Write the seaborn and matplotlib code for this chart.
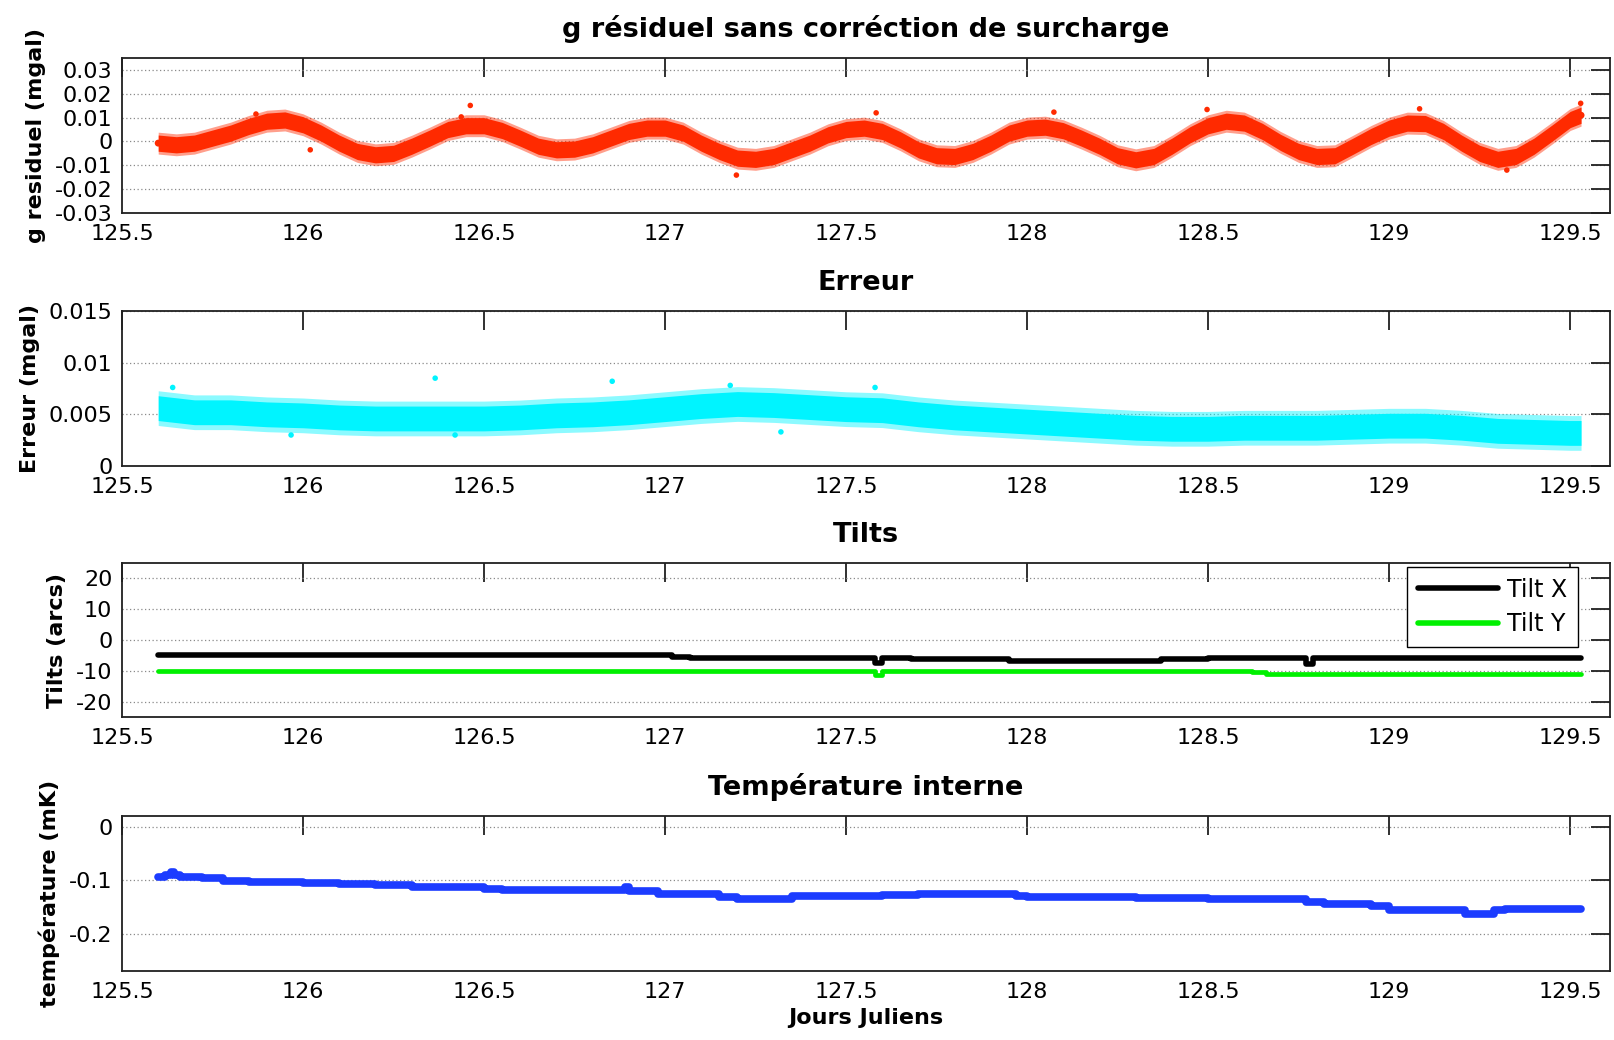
import matplotlib
matplotlib.use("Agg")
import matplotlib.pyplot as plt
import numpy as np
import pandas as pd
import seaborn as sns

# ---------------- data ----------------
# Panel 1: g residuel (mgal) - centre of the scattered band
t_g = [125.60, 125.65, 125.70, 125.75, 125.80, 125.85, 125.90, 125.95, 126.00, 126.05,
       126.10, 126.15, 126.20, 126.25, 126.30, 126.35, 126.40, 126.45, 126.50, 126.55,
       126.60, 126.65, 126.70, 126.75, 126.80, 126.85, 126.90, 126.95, 127.00, 127.05,
       127.10, 127.15, 127.20, 127.25, 127.30, 127.35, 127.40, 127.45, 127.50, 127.55,
       127.60, 127.65, 127.70, 127.75, 127.80, 127.85, 127.90, 127.95, 128.00, 128.05,
       128.10, 128.15, 128.20, 128.25, 128.30, 128.35, 128.40, 128.45, 128.50, 128.55,
       128.60, 128.65, 128.70, 128.75, 128.80, 128.85, 128.90, 128.95, 129.00, 129.05,
       129.10, 129.15, 129.20, 129.25, 129.30, 129.35, 129.40, 129.45, 129.50, 129.53]
g_res = [-0.0007, -0.0014, -0.0007, 0.0014, 0.0035, 0.0063, 0.0085, 0.0090, 0.0070, 0.0035,
         -0.0007, -0.0042, -0.0056, -0.0050, -0.0020, 0.0014, 0.0050, 0.0066, 0.0066, 0.0046,
         0.0014, -0.0020, -0.0035, -0.0032, -0.0014, 0.0014, 0.0042, 0.0056, 0.0056, 0.0035,
         -0.0007, -0.0042, -0.0070, -0.0075, -0.0063, -0.0035, -0.0007, 0.0028, 0.0050, 0.0056,
         0.0042, 0.0007, -0.0035, -0.0060, -0.0063, -0.0042, -0.0007, 0.0035, 0.0056, 0.0060,
         0.0045, 0.0014, -0.0020, -0.0060, -0.0077, -0.0063, -0.0020, 0.0028, 0.0066, 0.0085,
         0.0077, 0.0042, -0.0004, -0.0042, -0.0063, -0.0060, -0.0020, 0.0021, 0.0056, 0.0077,
         0.0075, 0.0042, -0.0007, -0.0050, -0.0075, -0.0063, -0.0020, 0.0035, 0.0092, 0.0110]
g_spread = 0.0034          # half width of the dense band
g_out_t = [126.437, 126.462, 127.197, 127.583, 128.074, 128.497, 129.084, 129.529, 129.325, 125.87, 126.02]
g_out_v = [0.0103, 0.0151, -0.0141, 0.0120, 0.0123, 0.0134, 0.0137, 0.0160, -0.0120, 0.0115, -0.0035]

# Panel 2: Erreur (mgal)
t_e = [125.60, 125.70, 125.80, 125.90, 126.00, 126.10, 126.20, 126.30, 126.40, 126.50,
       126.60, 126.70, 126.80, 126.90, 127.00, 127.10, 127.20, 127.30, 127.40, 127.50,
       127.60, 127.70, 127.80, 127.90, 128.00, 128.10, 128.20, 128.30, 128.40, 128.50,
       128.60, 128.70, 128.80, 128.90, 129.00, 129.10, 129.20, 129.30, 129.40, 129.50, 129.53]
err = [0.0056, 0.0052, 0.0052, 0.0050, 0.0049, 0.0047, 0.0046, 0.0046, 0.0046, 0.0046,
       0.0047, 0.0049, 0.0050, 0.0052, 0.0055, 0.0058, 0.0060, 0.0059, 0.0057, 0.0055,
       0.0054, 0.0050, 0.0047, 0.0045, 0.0043, 0.0041, 0.0039, 0.0037, 0.0036, 0.0036,
       0.0037, 0.0037, 0.0037, 0.0038, 0.0039, 0.0039, 0.0037, 0.0034, 0.0033, 0.0032, 0.0032]
e_spread = 0.0012
e_out_t = [126.365, 126.854, 125.967, 127.32, 127.58, 125.64, 126.42, 127.18]
e_out_v = [0.0085, 0.0082, 0.0030, 0.0033, 0.0076, 0.0076, 0.0030, 0.0078]

# Panel 3: Tilts (arcs)
t_tx = [125.60, 127.02, 127.07, 127.58, 127.60, 127.68, 127.95, 128.37, 128.50, 128.77, 128.79, 129.53]
tilt_x = [-5.0, -5.4, -5.8, -7.6, -5.8, -6.2, -6.7, -6.2, -5.8, -7.8, -5.8, -5.7]
t_ty = [125.60, 127.58, 127.60, 128.62, 128.66, 129.53]
tilt_y = [-10.0, -11.5, -10.0, -10.4, -10.9, -10.9]

# Panel 4: temperature (mK)
t_tp = [125.60, 125.62, 125.635, 125.645, 125.66, 125.72, 125.78, 125.85, 126.00, 126.10,
        126.20, 126.30, 126.40, 126.50, 126.55, 126.89, 126.90, 126.98, 127.15, 127.20,
        127.35, 127.45, 127.60, 127.70, 127.97, 128.00, 128.30, 128.40, 128.50, 128.77,
        128.82, 128.95, 129.00, 129.21, 129.29, 129.32, 129.53]
temp = [-0.094, -0.090, -0.084, -0.090, -0.094, -0.096, -0.101, -0.104, -0.105, -0.107,
        -0.110, -0.112, -0.113, -0.116, -0.119, -0.113, -0.121, -0.126, -0.131, -0.135,
        -0.130, -0.129, -0.127, -0.125, -0.129, -0.132, -0.133, -0.134, -0.135, -0.141,
        -0.145, -0.149, -0.156, -0.163, -0.156, -0.154, -0.154]

x_ticks = [125.5, 126, 126.5, 127, 127.5, 128, 128.5, 129, 129.5]
x_ticklabels = ["125.5", "126", "126.5", "127", "127.5", "128", "128.5", "129", "129.5"]

titles = ["g résiduel sans corréction de surcharge", "Erreur", "Tilts", "Température interne"]
ylabels = ["g residuel (mgal)", "Erreur (mgal)", "Tilts (arcs)", "température (mK)"]

y1_ticks = [-0.03, -0.02, -0.01, 0, 0.01, 0.02, 0.03]
y1_labels = ["-0.03", "-0.02", "-0.01", "0", "0.01", "0.02", "0.03"]
y2_ticks = [0, 0.005, 0.01, 0.015]
y2_labels = ["0", "0.005", "0.01", "0.015"]
y3_ticks = [-20, -10, 0, 10, 20]
y3_labels = ["-20", "-10", "0", "10", "20"]
y4_ticks = [-0.2, -0.1, 0]
y4_labels = ["-0.2", "-0.1", "0"]

# ---------------- style ----------------
sns.set_theme(style="white")
plt.rcParams["font.family"] = ["DejaVu Sans"]
plt.rcParams["axes.unicode_minus"] = False
plt.rcParams["text.color"] = "black"
plt.rcParams["axes.labelcolor"] = "black"

RED = "#ff2a00"
CYAN = "#00f4ff"
GREEN = "#00f000"
BLUE = "#1c3cff"

W, H = 1614, 1040
fig = plt.figure(figsize=(W / 100, H / 100), dpi=100)
fig.patch.set_facecolor("white")

def make_ax(top, bottom):
    return fig.add_axes([122 / W, 1 - bottom / H, 1488 / W, (bottom - top) / H])

ax1 = make_ax(58, 213)
ax2 = make_ax(311, 466)
ax3 = make_ax(563, 717)
ax4 = make_ax(816, 971)
axes = [ax1, ax2, ax3, ax4]

# Panel 1
g = np.array(g_res)
ax1.fill_between(t_g, g - g_spread * 1.35, g + g_spread * 1.35, color=RED, alpha=0.45, lw=0)
ax1.fill_between(t_g, g - g_spread, g + g_spread, color=RED, lw=0)
sns.scatterplot(x=t_g, y=g_res, ax=ax1, color=RED, s=25, edgecolor="none")
sns.scatterplot(x=g_out_t, y=g_out_v, ax=ax1, color=RED, s=16, edgecolor="none")

# Panel 2
e = np.array(err)
ax2.fill_between(t_e, e - e_spread * 1.4, e + e_spread * 1.4, color=CYAN, alpha=0.45, lw=0)
ax2.fill_between(t_e, e - e_spread, e + e_spread, color=CYAN, lw=0)
sns.scatterplot(x=e_out_t, y=e_out_v, ax=ax2, color=CYAN, s=16, edgecolor="none")

# Panel 3
df_x = pd.DataFrame({"t": t_tx, "v": tilt_x})
df_y = pd.DataFrame({"t": t_ty, "v": tilt_y})
sns.lineplot(data=df_x, x="t", y="v", ax=ax3, color="black", lw=4.0,
             drawstyle="steps-post", estimator=None, label="Tilt X")
sns.lineplot(data=df_y, x="t", y="v", ax=ax3, color=GREEN, lw=3.4,
             drawstyle="steps-post", estimator=None, label="Tilt Y")
leg = ax3.legend(loc="upper right", bbox_to_anchor=((1578 - 122) / 1488, 1 - 4 / 154),
                 borderaxespad=0, fontsize=17, handlelength=3.4, frameon=True,
                 fancybox=False, edgecolor="black", framealpha=1,
                 borderpad=0.45, labelspacing=0.45, handletextpad=0.4)
leg.get_frame().set_linewidth(1.0)
for line in leg.get_lines():
    line.set_linewidth(4)

# Panel 4
df_t = pd.DataFrame({"t": t_tp, "v": temp})
sns.lineplot(data=df_t, x="t", y="v", ax=ax4, color=BLUE, lw=5.5,
             drawstyle="steps-post", estimator=None)

# Axes cosmetics
yl = [(-0.03, 0.035), (0, 0.015), (-25, 25), (-0.27, 0.02)]
yt = [(y1_ticks, y1_labels), (y2_ticks, y2_labels), (y3_ticks, y3_labels), (y4_ticks, y4_labels)]
for ax, title, ylab, lim, (tk, tl) in zip(axes, titles, ylabels, yl, yt):
    ax.set_xlim(125.5, 129.61)
    ax.set_ylim(*lim)
    ax.set_xticks(x_ticks)
    ax.set_xticklabels(x_ticklabels)
    ax.set_yticks(tk)
    ax.set_yticklabels(tl)
    ax.set_title(title, fontsize=19.5, fontweight="bold", pad=15, color="black")
    ax.set_ylabel(ylab, fontsize=16, fontweight="bold", labelpad=6, color="black")
    ax.set_xlabel("")
    ax.yaxis.grid(True, linestyle=(0, (1, 2)), color="#8a8a8a", linewidth=0.9)
    ax.xaxis.grid(False)
    ax.set_axisbelow(True)
    ax.tick_params(direction="in", top=True, right=True, length=14, width=1.3,
                   colors="#202020", labelsize=16, labelcolor="black")
    ax.tick_params(axis="x", pad=8)
    ax.tick_params(axis="y", pad=7)
    for sp in ax.spines.values():
        sp.set_color("#202020")
        sp.set_linewidth(1.3)
    ax.set_facecolor("white")

ax4.set_xlabel("Jours Juliens", fontsize=16, fontweight="bold", labelpad=4, color="black")

fig.savefig("out.png", dpi=100, facecolor="white")
